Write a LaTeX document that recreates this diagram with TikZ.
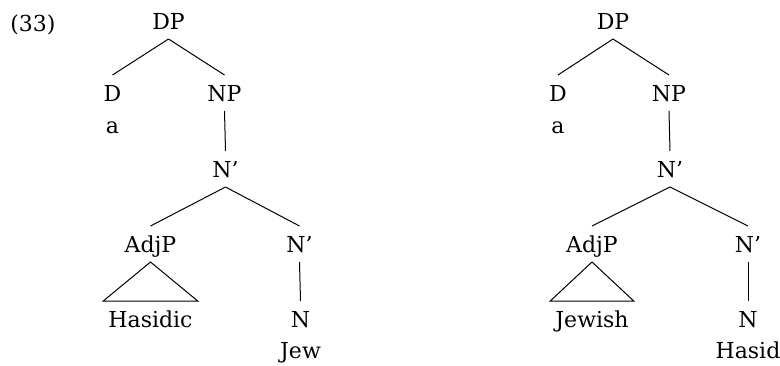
\documentclass[tikz,border=0pt]{standalone}
\usepackage{fontspec}
\setmainfont{DejaVu Serif}
\usetikzlibrary{positioning}

\tikzset{
  cat/.style={font=\fontsize{22}{26}\selectfont, inner sep=0pt, text height=16pt, text depth=0pt, outer ysep=10pt},
  word/.style={cat, outer ysep=0pt},
  roof/.style={cat, inner xsep=5pt},
  branch/.style={line width=1pt},
}

\begin{document}
\begin{tikzpicture}[x=1pt,y=1pt]
  \useasboundingbox (0,0) rectangle (780,-365);

  % Define nodes
  \node[cat, anchor=base]                          (ex) at (33,-31) {(33)};

  \node[cat, anchor=base]                          (dp1) at (168.5,-29) {DP};
  \node[cat, below=36pt of dp1, xshift=-56pt]      (d1) {D};
  \node[cat, below=36pt of dp1, xshift=56pt]       (np1) {NP};
  \node[word, below=6pt of d1]                     (a1) {a};
  \node[cat, below=40pt of np1, xshift=1pt]        (nb1) {N'};
  \node[cat, below=39pt of nb1, xshift=-75pt]      (adj1) {AdjP};
  \node[cat, below=39pt of nb1, xshift=74pt]       (nc1) {N'};
  \node[roof, below=39pt of adj1]                  (hasidic) {Hasidic};
  \node[cat, below=39pt of nc1, xshift=1pt]        (n1) {N};
  \node[word, below=5pt of n1]                     (jew) {Jew};

  \node[cat, anchor=base]                          (dp2) at (613,-29) {DP};
  \node[cat, below=36pt of dp2, xshift=-55pt]      (d2) {D};
  \node[cat, below=36pt of dp2, xshift=56pt]       (np2) {NP};
  \node[word, below=6pt of d2]                     (a2) {a};
  \node[cat, below=40pt of np2, xshift=1pt]        (nb2) {N'};
  \node[cat, below=39pt of nb2, xshift=-78pt]      (adj2) {AdjP};
  \node[cat, below=39pt of nb2, xshift=78pt]       (nc2) {N'};
  \node[roof, below=39pt of adj2]                  (jewish) {Jewish};
  \node[cat, below=39pt of nc2]                    (n2) {N};
  \node[word, below=5pt of n2]                     (hasid) {Hasid};

  % Connect the nodes
  \foreach \up/\down in {dp1/d1, dp1/np1, np1/nb1, nb1/adj1, nb1/nc1, nc1/n1,
                         dp2/d2, dp2/np2, np2/nb2, nb2/adj2, nb2/nc2, nc2/n2}
    \draw[branch] (\up.south) -- (\down.north);

  % Roofs
  \draw[branch] (adj1.south) -- (hasidic.north west) -- (hasidic.north east) -- cycle;
  \draw[branch] (adj2.south) -- (jewish.north west) -- (jewish.north east) -- cycle;

\end{tikzpicture}
\end{document}
